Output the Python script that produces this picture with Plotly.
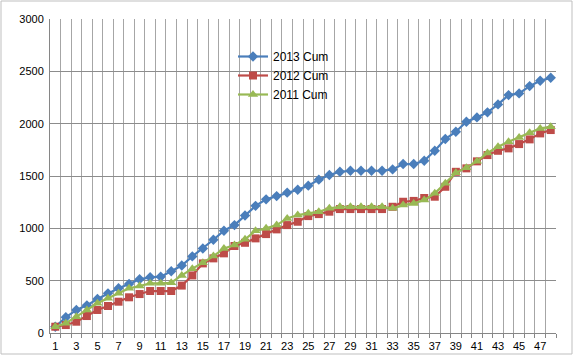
import plotly.graph_objects as go

weeks = list(range(1, 49))
x_tick_labels = [1, 3, 5, 7, 9, 11, 13, 15, 17, 19, 21, 23, 25, 27, 29, 31, 33, 35, 37, 39, 41, 43, 45, 47]
y_tick_values = [0, 500, 1000, 1500, 2000, 2500, 3000]

cum_2013 = [60, 150, 220, 264, 325, 379, 427, 468, 513, 532,
            538, 590, 645, 732, 808, 891, 977, 1031, 1122, 1215,
            1277, 1308, 1341, 1369, 1408, 1465, 1509, 1540, 1550, 1550,
            1550, 1550, 1563, 1614, 1614, 1646, 1741, 1853, 1923, 2018,
            2060, 2108, 2184, 2273, 2289, 2359, 2410, 2438]
cum_2012 = [60, 76, 108, 162, 220, 258, 299, 341, 372, 401,
            401, 401, 453, 550, 665, 713, 761, 831, 862, 904,
            945, 990, 1031, 1063, 1117, 1136, 1159, 1184, 1184, 1184,
            1184, 1184, 1206, 1254, 1262, 1290, 1302, 1397, 1540, 1573,
            1640, 1700, 1741, 1764, 1805, 1850, 1907, 1939]
cum_2011 = [60, 93, 156, 220, 284, 331, 379, 427, 449, 475,
            475, 480, 550, 615, 671, 735, 808, 840, 895, 977,
            1000, 1031, 1095, 1127, 1143, 1159, 1191, 1206, 1206, 1206,
            1206, 1206, 1191, 1222, 1238, 1270, 1334, 1430, 1530, 1580,
            1640, 1720, 1779, 1827, 1869, 1913, 1955, 1970]

fig = go.Figure()
fig.add_trace(go.Scatter(x=weeks, y=cum_2013, name="2013 Cum", mode="lines+markers",
                         line=dict(color="#4A7EBB", width=2.2),
                         marker=dict(symbol="diamond", size=8, color="#4A7EBB")))
fig.add_trace(go.Scatter(x=weeks, y=cum_2012, name="2012 Cum", mode="lines+markers",
                         line=dict(color="#BE4B48", width=2.2),
                         marker=dict(symbol="square", size=8, color="#BE4B48")))
fig.add_trace(go.Scatter(x=weeks, y=cum_2011, name="2011 Cum", mode="lines+markers",
                         line=dict(color="#98B954", width=2.2),
                         marker=dict(symbol="triangle-up", size=9, color="#98B954")))

L, R, T, B = 50, 20, 19, 24
W, H = 576, 357
pw, ph = W - L - R, H - T - B

fig.update_layout(
    width=W, height=H,
    margin=dict(l=L, r=R, t=T, b=B, autoexpand=False),
    paper_bgcolor="white", plot_bgcolor="white",
    font=dict(family="Liberation Sans, Arial, sans-serif", size=11, color="black"),
    showlegend=True,
    legend=dict(x=(233 - L) / pw, y=(333 - 42) / ph, xanchor="left", yanchor="top",
                bgcolor="rgba(0,0,0,0)", font=dict(size=12), tracegroupgap=0,
                itemwidth=30),
    xaxis=dict(range=[0.5, 48.5], tickmode="array", tickvals=x_tick_labels,
               ticktext=[str(v) for v in x_tick_labels], showgrid=False,
               ticks="", showline=True, linecolor="#868686", linewidth=1,
               zeroline=False, tickfont=dict(size=11), ticklabelstandoff=3,
               automargin=False,
               minor=dict(tickmode="linear", tick0=0.5, dtick=1, showgrid=True,
                          gridcolor="#A6A6A6", gridwidth=1, ticks="outside",
                          ticklen=4, tickcolor="#868686")),
    yaxis=dict(range=[0, 3000], tickvals=y_tick_values, showgrid=True,
               gridcolor="#8C8C8C", gridwidth=1, showline=True, linecolor="#868686",
               zeroline=False, ticks="", ticklabelstandoff=3, automargin=False,
               tickfont=dict(size=11)),
    shapes=[dict(type="rect", xref="paper", yref="paper",
                 x0=(1 - L) / pw, x1=(572 - L) / pw,
                 y0=(H - B - 354) / ph, y1=(H - B - 1) / ph,
                 line=dict(color="#BFBFBF", width=1), layer="below")],
)

fig.write_html("out.html", config={"displayModeBar": False},
               post_script="document.body.style.margin='0';document.body.style.padding='0';")
